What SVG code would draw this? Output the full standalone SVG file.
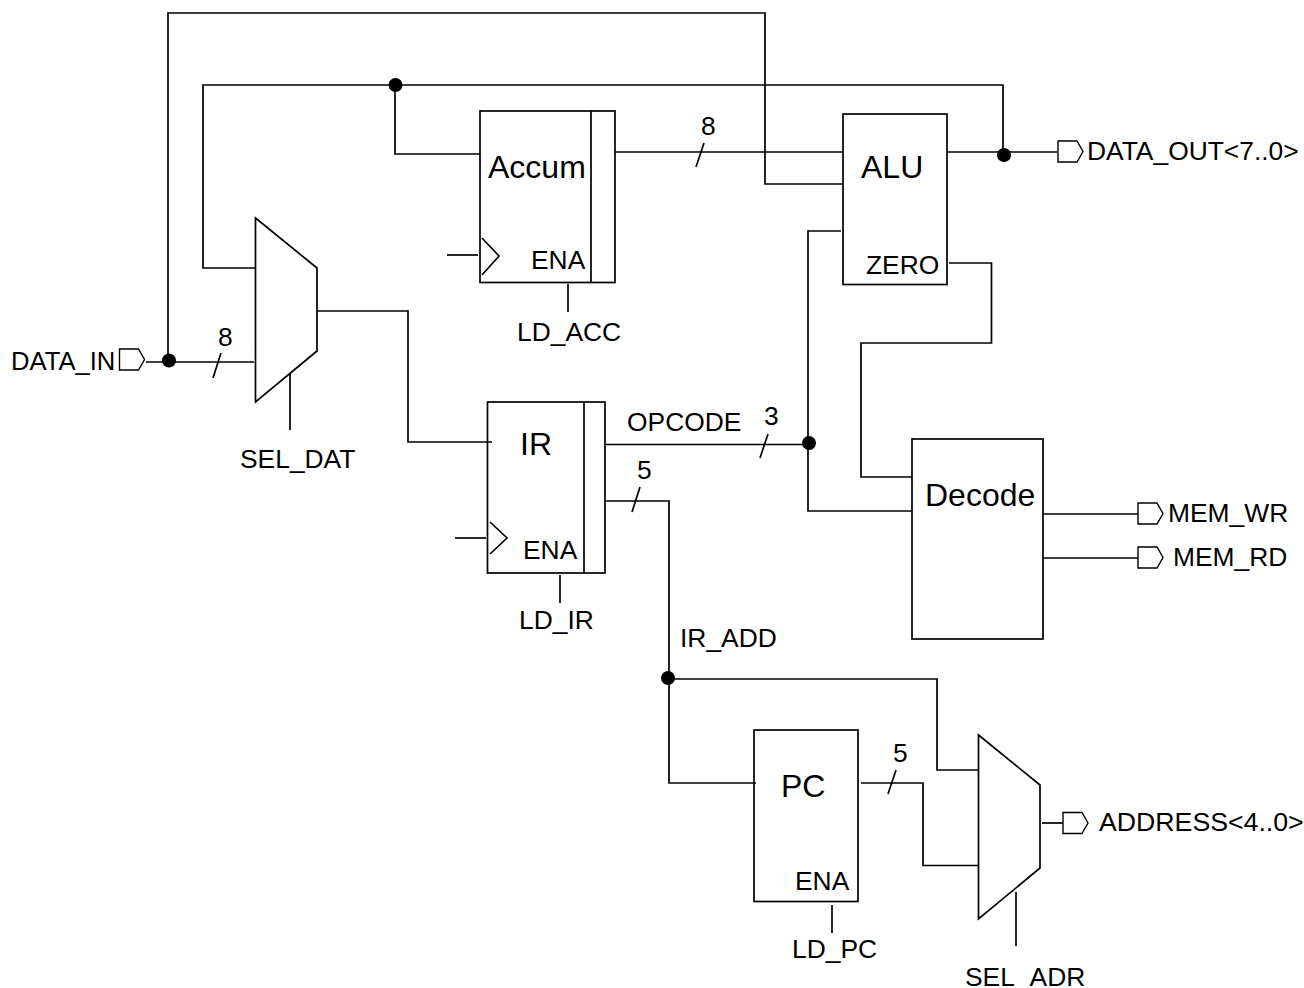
<svg xmlns="http://www.w3.org/2000/svg" width="1304" height="988" viewBox="0 0 1304 988">
<style>
.l{fill:none;stroke:#000;stroke-width:1.7}
.b{fill:#fff;stroke:#000;stroke-width:1.7}
.d{fill:#000}
text{font-family:"Liberation Sans",Arial,sans-serif;fill:#000;font-size:26.4px}
.t{font-size:32px}
</style>
<defs><path id="pin" d="M0 0H19L25 10.5L19 21H0Z" fill="#fff" stroke="#000" stroke-width="1.4"/></defs>
<rect width="1304" height="988" fill="#fff"/>
<g id="mux-data"><path class="b" d="M255.500 218L317 268V351L255.500 402Z"/></g>
<g id="accum"><rect class="b" x="480" y="111" width="135" height="171.500"/><path class="l" d="M591 111V282.500M482 238L499 256L482 275"/><text class="t" x="488" y="178">Accum</text><text x="531" y="269">ENA</text></g>
<g id="alu"><rect class="b" x="843" y="114" width="104" height="170.500"/><text class="t" x="861" y="178">ALU</text><text x="866" y="274">ZERO</text></g>
<g id="ir"><rect class="b" x="487.500" y="402" width="117.500" height="171"/><path class="l" d="M584 402V573M490 522L507 538L490 554"/><text class="t" x="520" y="455">IR</text><text x="523" y="559">ENA</text></g>
<g id="decode"><rect class="b" x="912" y="439" width="131" height="200"/><text class="t" x="925" y="506">Decode</text></g>
<g id="pc"><rect class="b" x="754" y="730" width="104" height="171.500"/><text class="t" x="781" y="797">PC</text><text x="795" y="890">ENA</text></g>
<g id="mux-addr"><path class="b" d="M978.500 735L1040 785V868L978.500 919Z"/></g>
<g id="connectors">
<path class="l" d="M146 362H254"/>
<path class="l" d="M168 360V13H765V184H843"/>
<path class="l" d="M255 268H203V85H1003V155"/>
<path class="l" d="M395 85V154H480"/>
<path class="l" d="M615 152H843"/>
<path class="l" d="M947 152H1057"/>
<path class="l" d="M317 311H408V442H492"/>
<path class="l" d="M605 444.500H809"/>
<path class="l" d="M841 231H808V511H912"/>
<path class="l" d="M949 263H991.500V343H861V477H912"/>
<path class="l" d="M605 501H669V783H756"/>
<path class="l" d="M668 679H937V770H978"/>
<path class="l" d="M861 783H923V865.500H978"/>
<path class="l" d="M1042 823H1063"/>
<path class="l" d="M1043 514H1138"/>
<path class="l" d="M1043 558H1138"/>
<path class="l" d="M290 374V430"/>
<path class="l" d="M568 284V312"/>
<path class="l" d="M560 575V603"/>
<path class="l" d="M832 905V933"/>
<path class="l" d="M1016 892V946"/>
<path class="l" d="M447 255H478"/>
<path class="l" d="M455 538H486"/>
<path class="l" d="M213 378L221 353"/>
<path class="l" d="M696 167L704 143"/>
<path class="l" d="M760 458L768 434"/>
<path class="l" d="M632 512L640 487"/>
<path class="l" d="M888 794L896 770"/>
<circle class="d" cx="169" cy="360.500" r="7"/>
<circle class="d" cx="395.500" cy="85" r="7"/>
<circle class="d" cx="1004" cy="155" r="7"/>
<circle class="d" cx="809" cy="443" r="7"/>
<circle class="d" cx="668" cy="678" r="7"/>
</g>
<g id="pin-data-in"><use href="#pin" x="119.500" y="349"/><text x="11" y="370" style="font-size:25.600px">DATA_IN</text></g>
<g id="pin-data-out"><use href="#pin" x="1058" y="141"/><text x="1087" y="160">DATA_OUT&lt;7..0&gt;</text></g>
<g id="pin-mem-wr"><use href="#pin" x="1138" y="503"/><text x="1168" y="522">MEM_WR</text></g>
<g id="pin-mem-rd"><use href="#pin" x="1138" y="547"/><text x="1173" y="566">MEM_RD</text></g>
<g id="pin-address"><use href="#pin" x="1063" y="812.500"/><text x="1099" y="831" style="font-size:26.700px">ADDRESS&lt;4..0&gt;</text></g>
<g id="labels">
<text x="218" y="346">8</text><text x="701" y="135">8</text><text x="764" y="425">3</text><text x="637" y="479">5</text><text x="893" y="762">5</text>
<text x="627" y="431">OPCODE</text><text x="680" y="647">IR_ADD</text>
<text x="240" y="468">SEL_DAT</text><text x="517" y="341">LD_ACC</text><text x="519" y="629">LD_IR</text><text x="792" y="958">LD_PC</text><text x="965" y="986">SEL_ADR</text>
</g>
</svg>
